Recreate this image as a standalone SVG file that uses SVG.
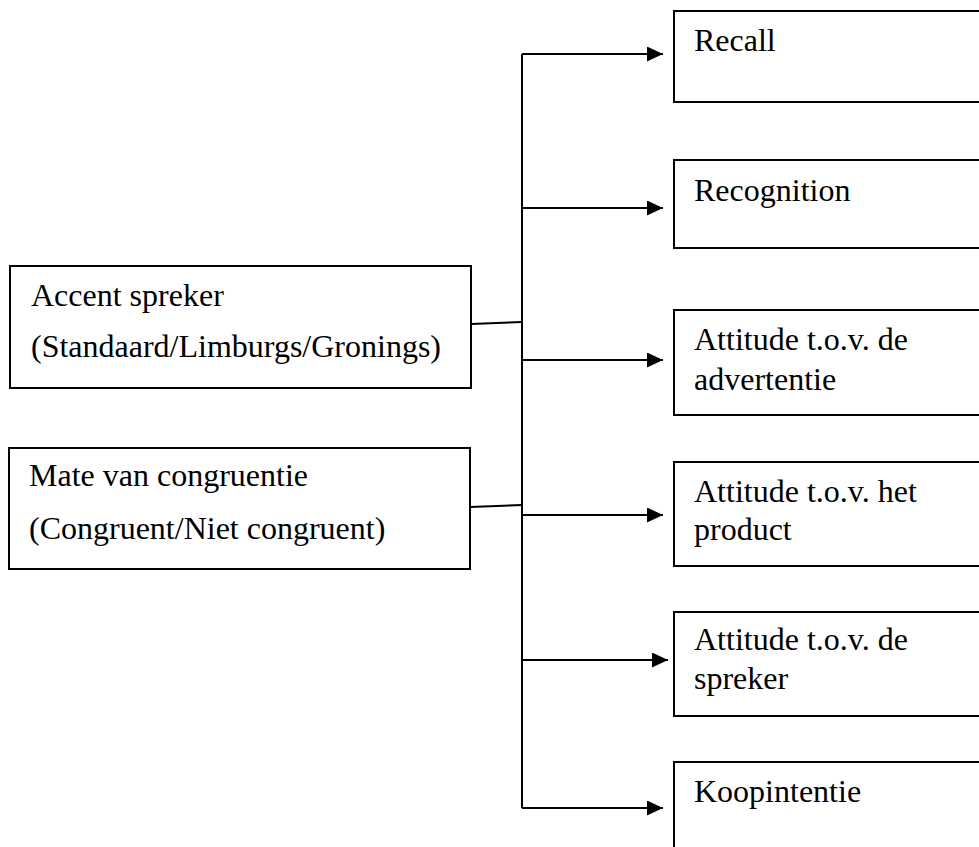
<svg xmlns="http://www.w3.org/2000/svg" width="979" height="847" viewBox="0 0 979 847">
<style>
.box{fill:#fff;stroke:#000;stroke-width:2}
.t{font-family:"Liberation Serif","Times New Roman",serif;font-size:32px;fill:#000}
.c{fill:none;stroke:#000;stroke-width:2}
</style>
<defs>
<marker id="ah" markerWidth="16" markerHeight="15" refX="16" refY="7.5" orient="auto" markerUnits="userSpaceOnUse">
<path d="M0,0 L16,7.5 L0,15 Z" fill="#000"/>
</marker>
</defs>
<rect width="979" height="847" fill="#fff"/>
<g id="connectors">
<line class="c" x1="471" y1="324" x2="522" y2="322"/>
<line class="c" x1="470" y1="507" x2="522" y2="505"/>
<line class="c" x1="522" y1="54" x2="522" y2="808"/>
<line class="c" x1="522" y1="54" x2="663" y2="54" marker-end="url(#ah)"/>
<line class="c" x1="522" y1="208" x2="663" y2="208" marker-end="url(#ah)"/>
<line class="c" x1="522" y1="360" x2="663" y2="360" marker-end="url(#ah)"/>
<line class="c" x1="522" y1="515" x2="663" y2="515" marker-end="url(#ah)"/>
<line class="c" x1="522" y1="660" x2="668" y2="660" marker-end="url(#ah)"/>
<line class="c" x1="522" y1="808" x2="663" y2="808" marker-end="url(#ah)"/>
</g>
<g id="accent">
<rect class="box" x="10" y="266" width="461" height="122"/>
<text class="t" x="31" y="306">Accent spreker</text>
<text class="t" x="31" y="357">(Standaard/Limburgs/Gronings)</text>
</g>
<g id="congruentie">
<rect class="box" x="9" y="448" width="461" height="121"/>
<text class="t" x="29" y="486">Mate van congruentie</text>
<text class="t" x="29" y="539">(Congruent/Niet congruent)</text>
</g>
<g id="recall">
<rect class="box" x="674" y="11" width="320" height="91"/>
<text class="t" x="694" y="51">Recall</text>
</g>
<g id="recognition">
<rect class="box" x="674" y="160" width="320" height="88"/>
<text class="t" x="694" y="201">Recognition</text>
</g>
<g id="attitude-advertentie">
<rect class="box" x="674" y="310" width="320" height="105"/>
<text class="t" x="694" y="350">Attitude t.o.v. de</text>
<text class="t" x="694" y="390">advertentie</text>
</g>
<g id="attitude-product">
<rect class="box" x="674" y="462" width="320" height="104"/>
<text class="t" x="694" y="502">Attitude t.o.v. het</text>
<text class="t" x="694" y="540">product</text>
</g>
<g id="attitude-spreker">
<rect class="box" x="674" y="612" width="320" height="104"/>
<text class="t" x="694" y="650">Attitude t.o.v. de</text>
<text class="t" x="694" y="689">spreker</text>
</g>
<g id="koopintentie">
<rect class="box" x="674" y="762" width="320" height="100"/>
<text class="t" x="694" y="802">Koopintentie</text>
</g>
</svg>
